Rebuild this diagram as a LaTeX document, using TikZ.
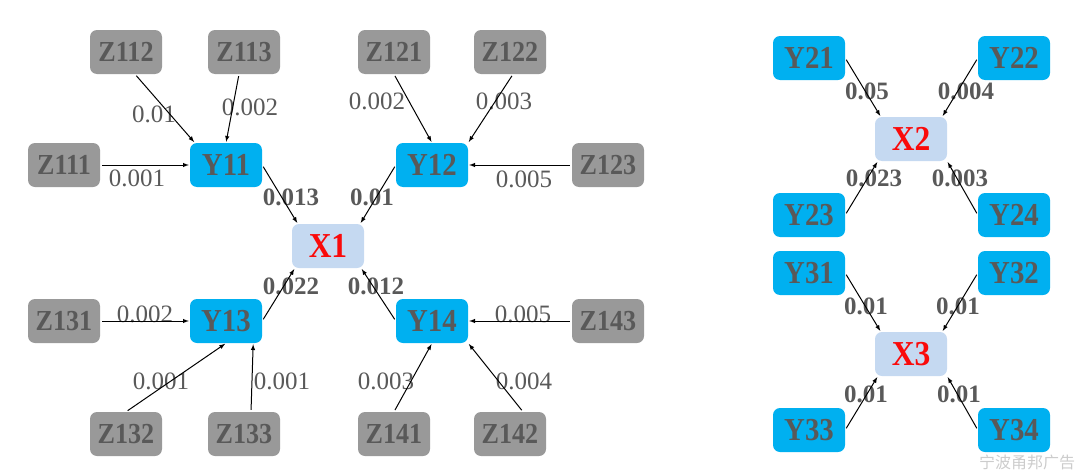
\documentclass[tikz,border=0pt]{standalone}
\usepackage{fontspec}
\setmainfont{Liberation Serif}
\newfontfamily\boxfont[FakeStretch=0.9]{Liberation Serif}
\newfontfamily\cjkfont{Noto Sans CJK SC}
\usepackage{tikz}
\usetikzlibrary{arrows}
\definecolor{zgray}{RGB}{153,153,153}
\definecolor{yblue}{RGB}{0,176,240}
\definecolor{xblue}{RGB}{197,217,241}
\definecolor{txtgray}{RGB}{89,89,89}
\definecolor{xred}{RGB}{250,10,10}

\begin{document}
\begin{tikzpicture}[x=1pt,y=-1pt,
        zbox/.style={fill=zgray, rounded corners=7pt, minimum width=72pt, minimum height=44pt,
            inner sep=0pt, text=txtgray, font=\boxfont\fontsize{29}{29}\selectfont\bfseries},
        ybox/.style={zbox, fill=yblue, font=\boxfont\fontsize{32}{32}\selectfont\bfseries},
        xbox/.style={zbox, fill=xblue, text=xred, font=\boxfont\fontsize{35}{35}\selectfont\bfseries},
        link/.style={-latex, line width=1pt, shorten >=1pt, shorten <=2pt},
        wt/.style={text=txtgray, inner sep=0pt, font=\fontsize{25}{25}\selectfont},
        wtb/.style={wt, font=\fontsize{25}{25}\selectfont\bfseries}]
        \useasboundingbox (0,0) rectangle (1080,474);

        % X1 block:
        \node[xbox] (X1) at (328,246) {X1};
        \foreach \n/\x/\y in {Y11/226/165, Y12/432/165, Y13/226/321, Y14/432/321}
            \node[ybox] (\n) at (\x,\y) {\n};
        \foreach \n/\x/\y in {Z112/126/52, Z113/244/52, Z121/394/52, Z122/510/52,
                Z111/64/165, Z123/608/165, Z131/64/321, Z143/608/321,
                Z132/126/434, Z133/244/434, Z141/394/434, Z142/510/434}
            \node[zbox] (\n) at (\x,\y) {\n};

        % X2, X3 blocks:
        \node[xbox] (X2) at (911,139) {X2};
        \node[xbox] (X3) at (911,354) {X3};
        \foreach \n/\x/\y in {Y21/809/58, Y22/1014/58, Y23/809/215, Y24/1014/215,
                Y31/809/273, Y32/1014/273, Y33/809/430, Y34/1014/430}
            \node[ybox] (\n) at (\x,\y) {\n};

        %weights
        \foreach \n/\x/\y/\t in {w112/154/114/0.01, w113/250/107/0.002, w111/137/178/0.001,
                w121/377/101/0.002, w122/504/101/0.003, w123/524/179/0.005,
                w131/145/314/0.002, w132/161/381/0.001, w133/282/381/0.001,
                w143/523/314/0.005, w141/386/381/0.003, w142/524/381/0.004}
            \node[wt] (\n) at (\x,\y) {\t};
        \foreach \n/\x/\y/\t in {w11/291/197/0.013, w12/372/197/0.01, w13/291/286/0.022,
                w14/376/286/0.012, w21/867/91/0.05, w22/966/91/0.004,
                w23/874/178/0.023, w24/960/178/0.003, w31/866/306/0.01,
                w32/958/306/0.01, w33/866/394/0.01, w34/959/394/0.01}
            \node[wtb] (\n) at (\x,\y) {\t};

        % links into Y11..Y14
        \draw[link] (Z111) -- (Y11);
        \draw[link] ([xshift=9pt]Z112.south) -- ([xshift=5pt]Y11.north west);
        \draw[link] ([xshift=-5pt]Z113.south) -- (Y11.north);
        \draw[link] (Z121.south) -- (Y12.north);
        \draw[link] ([xshift=3pt]Z122.south) -- (Y12.north east);
        \draw[link] (Z123) -- (Y12);
        \draw[link] (Z131) -- (Y13);
        \draw[link] (Z132.north) -- (Y13.south);
        \draw[link] ([xshift=7pt]Z133.north) -- ([xshift=-9pt]Y13.south east);
        \draw[link] (Z141.north) -- (Y14.south);
        \draw[link] ([xshift=13pt]Z142.north) -- (Y14.south east);
        \draw[link] (Z143) -- (Y14);

        % links into X1
        \draw[link] (Y11.east) -- ([xshift=6pt]X1.north west);
        \draw[link] (Y12.west) -- ([xshift=-4pt]X1.north east);
        \draw[link] (Y13.east) -- ([xshift=3pt]X1.south west);
        \draw[link] (Y14.west) -- ([xshift=-3pt]X1.south east);

        % links into X2, X3
        \foreach \g in {2,3} {
            \draw[link] (Y\g1.east) -- ([xshift=6pt]X\g.north west);
            \draw[link] (Y\g2.west) -- ([xshift=-5pt]X\g.north east);
            \draw[link] (Y\g3.east) -- ([xshift=3pt]X\g.south west);
            \draw[link] (Y\g4.west) -- (X\g.south east);
        }

        \node[text=black!20, inner sep=0pt, font=\cjkfont\fontsize{16}{16}\selectfont] (mark) at (1027,462) {宁波甬邦广告};
\end{tikzpicture}
\end{document}
